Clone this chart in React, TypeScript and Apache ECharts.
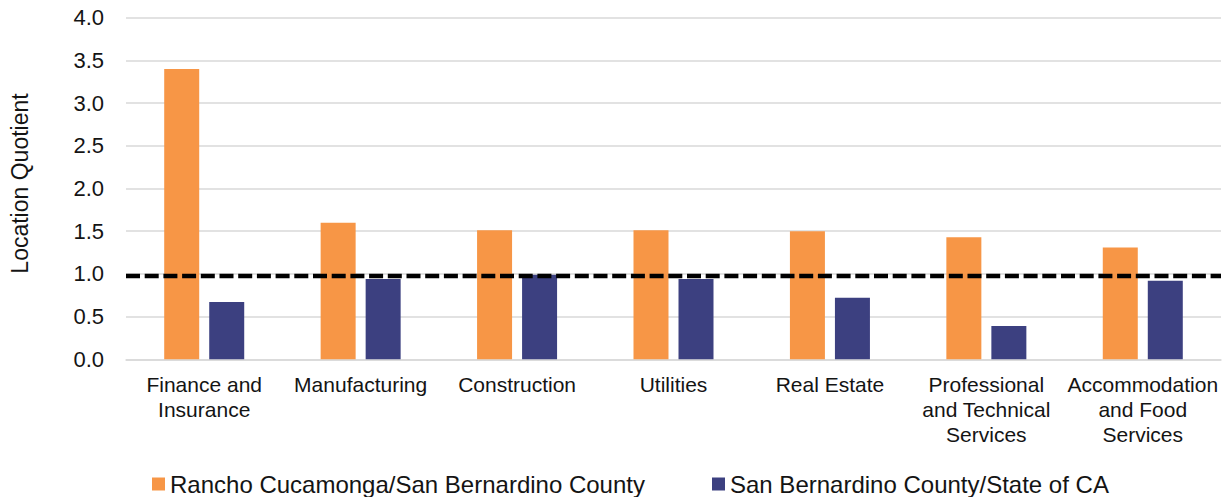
import React, { useEffect, useRef } from "react";
import * as echarts from "echarts";

const categories = [
  "Finance and\nInsurance",
  "Manufacturing",
  "Construction",
  "Utilities",
  "Real Estate",
  "Professional\nand Technical\nServices",
  "Accommodation\nand Food\nServices",
];
const seriesNames = [
  "Rancho Cucamonga/San Bernardino County",
  "San Bernardino County/State of CA",
];
const ranchoValues = [3.4, 1.6, 1.51, 1.51, 1.5, 1.43, 1.31];
const countyValues = [0.67, 0.94, 0.99, 0.94, 0.72, 0.39, 0.92];
const referenceLine = 0.98;
const yTicks = { min: 0, max: 4, interval: 0.5 };

const FONT = '"Liberation Sans", Arial, sans-serif';
const TEXT = "#141414";
const ORANGE = "#F79646";
const NAVY = "#3C4080";

export default function App() {
  const ref = useRef<HTMLDivElement>(null);
  useEffect(() => {
    if (!ref.current) return;
    const chart = echarts.init(ref.current, null, { renderer: "svg" });
    chart.setOption({
      animation: false,
      textStyle: { fontFamily: FONT },
      grid: { left: 125, right: 4, top: 17.7, bottom: 137.7, containLabel: false },
      legend: [
        {
          data: [seriesNames[0]],
          left: 152,
          top: 472,
          padding: 0,
          itemWidth: 13,
          itemHeight: 13,
          icon: "rect",
          textStyle: { fontSize: 24, color: TEXT, fontFamily: FONT },
        },
        {
          data: [seriesNames[1]],
          left: 712,
          top: 472,
          padding: 0,
          itemWidth: 13,
          itemHeight: 13,
          icon: "rect",
          textStyle: { fontSize: 24, color: TEXT, fontFamily: FONT },
        },
      ],
      xAxis: {
        type: "category",
        data: categories,
        axisTick: { show: false },
        axisLine: { show: true, lineStyle: { color: "#d9d9d9", width: 1.5 } },
        axisLabel: {
          interval: 0,
          margin: 13,
          fontSize: 21,
          lineHeight: 25,
          color: TEXT,
          fontFamily: FONT,
          align: "center",
        },
      },
      yAxis: {
        type: "value",
        min: yTicks.min,
        max: yTicks.max,
        interval: yTicks.interval,
        name: "Location Quotient",
        nameLocation: "middle",
        nameGap: 95,
        nameRotate: 90,
        nameTextStyle: { fontSize: 23, color: TEXT, fontFamily: FONT, padding: [0, 0, 0, 10] },
        axisLine: { show: false },
        axisTick: { show: false },
        axisLabel: {
          margin: 22,
          fontSize: 22,
          color: TEXT,
          fontFamily: FONT,
          formatter: (v: number) => v.toFixed(1),
        },
        splitLine: { lineStyle: { color: "#d9d9d9", width: 1.5 } },
      },
      series: [
        {
          name: seriesNames[0],
          type: "bar",
          data: ranchoValues,
          barWidth: 35,
          barGap: "28.6%",
          itemStyle: { color: ORANGE },
          markLine: {
            silent: true,
            symbol: ["none", "none"],
            label: { show: false },
            lineStyle: { color: "#000", width: 4.3, type: [14, 4.7] },
            data: [{ yAxis: referenceLine }],
            z: 10,
          },
        },
        {
          name: seriesNames[1],
          type: "bar",
          data: countyValues,
          barWidth: 35,
          barGap: "28.6%",
          itemStyle: { color: NAVY },
        },
      ],
    });
    return () => chart.dispose();
  }, []);
  return (
    <div
      ref={ref}
      style={{ position: "fixed", left: 0, top: 0, width: 1225, height: 497, background: "#fff" }}
    />
  );
}
